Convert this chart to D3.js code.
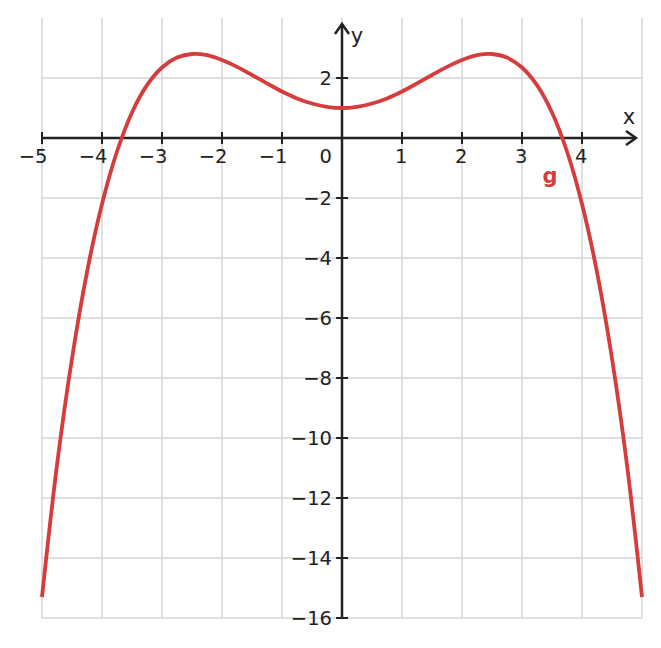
<!DOCTYPE html>
<html>
<head>
<meta charset="utf-8">
<script src="https://cdn.jsdelivr.net/npm/d3@7"></script>
<style>
  body { margin: 0; background: #fff; }
  text { font-family: "DejaVu Sans", sans-serif; fill: #222; }
</style>
</head>
<body>
<div id="chart"></div>
<script>
// curve g at every quarter unit
var xs = [-5, -4.75, -4.5, -4.25, -4, -3.75, -3.5, -3.25, -3, -2.75, -2.5, -2.25, -2, -1.75, -1.5, -1.25, -1, -0.75, -0.5, -0.25,
          0, 0.25, 0.5, 0.75, 1, 1.25, 1.5, 1.75, 2, 2.25, 2.5, 2.75, 3, 3.25, 3.5, 3.75, 4, 4.25, 4.5, 4.75, 5];
var gs = [-15.3, -10.9, -7.35, -4.47, -2.2, -0.45, 0.85, 1.76, 2.35, 2.68, 2.8, 2.76, 2.6, 2.37, 2.1, 1.82, 1.55, 1.32, 1.15, 1.04,
          1, 1.04, 1.15, 1.32, 1.55, 1.82, 2.1, 2.37, 2.6, 2.76, 2.8, 2.68, 2.35, 1.76, 0.85, -0.45, -2.2, -4.47, -7.35, -10.9, -15.3];

var xTicks = [-5, -4, -3, -2, -1, 1, 2, 3, 4];
var yTicks = [2, -2, -4, -6, -8, -10, -12, -14, -16];
var xGrid = [-5, -4, -3, -2, -1, 0, 1, 2, 3, 4, 5];
var yGrid = [2, -2, -4, -6, -8, -10, -12, -14, -16];

var width = 661, height = 648;

var svg = d3.select("#chart").append("svg")
	.attr("width", width)
	.attr("height", height);

var x = d3.scaleLinear().domain([-5, 5]).range([42, 642]);
var y = d3.scaleLinear().domain([-16, 4]).range([618, 18]);

// grid
svg.selectAll(".vgrid").data(xGrid).enter().append("line")
	.attr("x1", d => x(d)).attr("x2", d => x(d))
	.attr("y1", y(4)).attr("y2", y(-16))
	.attr("stroke", "#d6d6d6").attr("stroke-width", 1.5);

svg.selectAll(".hgrid").data(yGrid).enter().append("line")
	.attr("x1", x(-5)).attr("x2", x(5))
	.attr("y1", d => y(d)).attr("y2", d => y(d))
	.attr("stroke", "#d6d6d6").attr("stroke-width", 1.5);

var ink = "#222";

// x axis
svg.append("line")
	.attr("x1", x(-5)).attr("x2", 636)
	.attr("y1", y(0)).attr("y2", y(0))
	.attr("stroke", ink).attr("stroke-width", 2.5);
svg.append("path")
	.attr("d", "M626," + (y(0) - 7) + "L636," + y(0) + "L626," + (y(0) + 7))
	.attr("fill", "none").attr("stroke", ink).attr("stroke-width", 2.5);

// y axis
svg.append("line")
	.attr("x1", x(0)).attr("x2", x(0))
	.attr("y1", y(-16)).attr("y2", 24)
	.attr("stroke", ink).attr("stroke-width", 2.5);
svg.append("path")
	.attr("d", "M" + (x(0) - 7) + ",34L" + x(0) + ",24L" + (x(0) + 7) + ",34")
	.attr("fill", "none").attr("stroke", ink).attr("stroke-width", 2.5);

// ticks
svg.selectAll(".xtick").data(xTicks.concat([0])).enter().append("line")
	.attr("x1", d => x(d)).attr("x2", d => x(d))
	.attr("y1", y(0) - 6).attr("y2", y(0) + 6)
	.attr("stroke", ink).attr("stroke-width", 2);
svg.selectAll(".ytick").data(yTicks).enter().append("line")
	.attr("x1", x(0) - 6).attr("x2", x(0) + 6)
	.attr("y1", d => y(d)).attr("y2", d => y(d))
	.attr("stroke", ink).attr("stroke-width", 2);

// tick labels
svg.selectAll(".xlab").data(xTicks).enter().append("text")
	.attr("x", d => x(d) + 5.5).attr("y", y(0) + 25)
	.attr("text-anchor", "end")
	.style("font-size", "19.5px")
	.text(d => d < 0 ? "\u2212" + (-d) : d);
svg.append("text")
	.attr("x", x(0) - 10).attr("y", y(0) + 25)
	.attr("text-anchor", "end")
	.style("font-size", "19.5px")
	.text("0");
svg.selectAll(".ylab").data(yTicks).enter().append("text")
	.attr("x", x(0) - 10).attr("y", d => y(d) + 7)
	.attr("text-anchor", "end")
	.style("font-size", "19.5px")
	.text(d => d < 0 ? "\u2212" + (-d) : d);

// axis names
svg.append("text").attr("x", 629).attr("y", 124)
	.attr("text-anchor", "middle").style("font-size", "21px").text("x");
svg.append("text").attr("x", 357).attr("y", 43)
	.attr("text-anchor", "middle").style("font-size", "21px").text("y");

// curve g
var red = "#d63c3c";
var pts = xs.map((v, i) => [v, gs[i]]);
var line = d3.line()
	.x(d => x(d[0])).y(d => y(d[1]))
	.curve(d3.curveCatmullRom);

svg.append("path")
	.datum(pts)
	.attr("d", line)
	.attr("fill", "none")
	.attr("stroke", red)
	.attr("stroke-width", 3.8);

svg.append("text").attr("x", 550).attr("y", 183)
	.attr("text-anchor", "middle")
	.style("font-size", "21px").style("font-weight", "bold")
	.style("fill", red)
	.text("g");
</script>
</body>
</html>
